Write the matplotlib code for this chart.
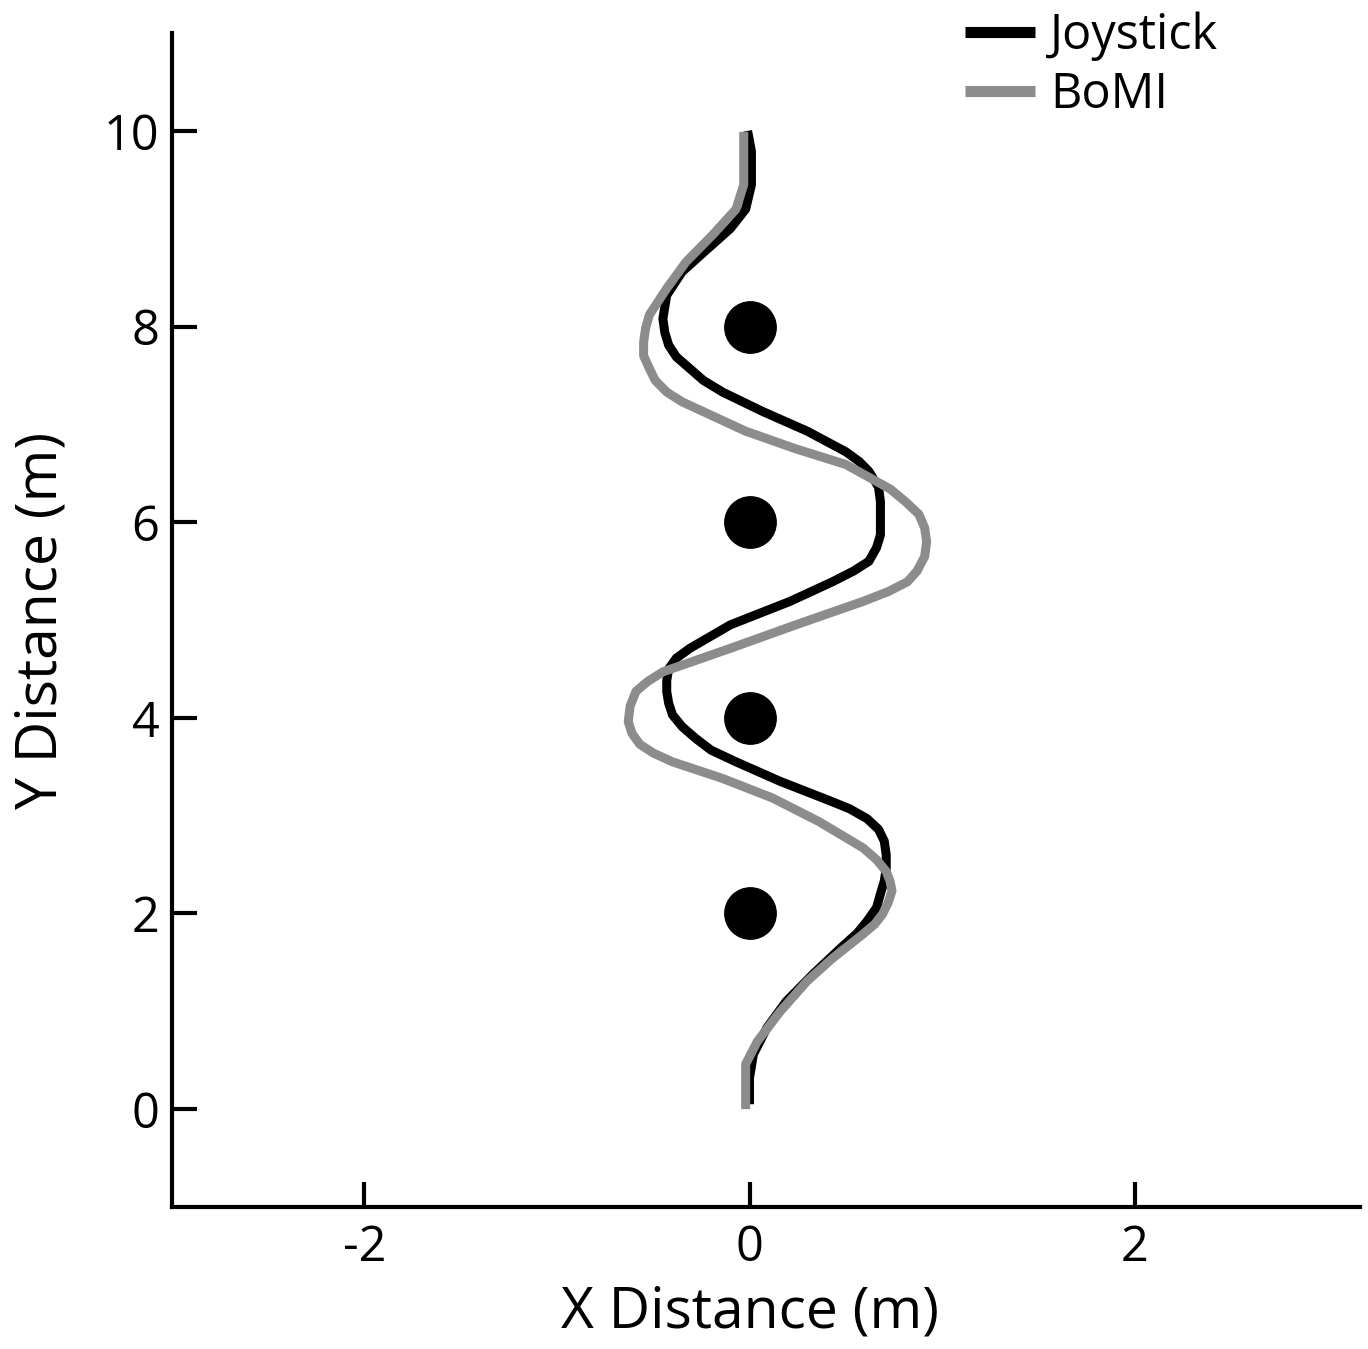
import matplotlib.pyplot as plt

plt.rcParams.update({'font.family': ['Open Sans', 'DejaVu Sans'],
                     'axes.unicode_minus': False})

# path points (metres)
joy_x = [0.00, 0.00, 0.02, 0.09, 0.19, 0.33, 0.47, 0.56, 0.61, 0.66, 0.68, 0.70,
         0.71, 0.71, 0.70, 0.67, 0.61, 0.52, 0.42, 0.16, -0.07, -0.20, -0.28,
         -0.35, -0.40, -0.42, -0.43, -0.43, -0.42, -0.38, -0.31, -0.10, 0.21,
         0.43, 0.54, 0.62, 0.66, 0.68, 0.68, 0.67, 0.62, 0.57, 0.50, 0.30, 0.07,
         -0.14, -0.24, -0.31, -0.38, -0.42, -0.44, -0.45, -0.44, -0.43, -0.35,
         -0.22, -0.10, -0.02, 0.01, 0.01, 0.01, -0.01]
joy_y = [0.05, 0.32, 0.56, 0.83, 1.10, 1.38, 1.64, 1.80, 1.92, 2.06, 2.20, 2.33,
         2.46, 2.60, 2.74, 2.86, 2.97, 3.07, 3.15, 3.35, 3.55, 3.67, 3.79,
         3.91, 4.03, 4.15, 4.27, 4.38, 4.50, 4.61, 4.71, 4.95, 5.19,
         5.39, 5.50, 5.60, 5.74, 5.87, 6.21, 6.36, 6.52, 6.62, 6.72, 6.93, 7.13,
         7.33, 7.45, 7.57, 7.69, 7.81, 7.94, 8.08, 8.20, 8.32, 8.56,
         8.79, 9.00, 9.20, 9.45, 9.62, 9.79, 10.00]
bomi_x = [-0.02, -0.02, -0.02, 0.04, 0.16, 0.30, 0.43, 0.59, 0.65, 0.69, 0.72,
          0.74, 0.73, 0.71, 0.66, 0.59, 0.36, 0.12, -0.14, -0.40, -0.50, -0.57,
          -0.61, -0.63, -0.62, -0.59, -0.53, -0.45, -0.10, 0.24, 0.59, 0.72,
          0.82, 0.87, 0.91, 0.92, 0.91, 0.88, 0.81, 0.73, 0.50, 0.24, -0.02,
          -0.24, -0.35, -0.43, -0.49, -0.52, -0.55, -0.55, -0.54, -0.52, -0.43,
          -0.33, -0.19, -0.07, -0.03, -0.03, -0.03]
bomi_y = [0.00, 0.26, 0.46, 0.69, 1.00, 1.31, 1.54, 1.79, 1.89, 1.99, 2.11,
          2.23, 2.33, 2.43, 2.55, 2.67, 2.94, 3.18, 3.38, 3.55, 3.64, 3.73,
          3.84, 3.96, 4.12, 4.27, 4.37, 4.47, 4.71, 4.95, 5.19, 5.29,
          5.39, 5.50, 5.65, 5.80, 5.94, 6.08, 6.21, 6.34, 6.59, 6.75, 6.93,
          7.13, 7.23, 7.33, 7.45, 7.57, 7.70, 7.84, 7.98, 8.12, 8.39,
          8.66, 8.94, 9.20, 9.45, 9.70, 9.99]
target_x = [0, 0, 0, 0]
target_y = [2, 4, 6, 8]

fig = plt.figure(figsize=(13.68, 13.49), dpi=100)
ax = fig.add_axes([0.1257, 0.1053, 0.8683, 0.8702])

ax.plot(joy_x, joy_y, color='black', lw=6.5, label='Joystick',
        solid_capstyle='butt', solid_joinstyle='round', zorder=3)
ax.plot(bomi_x, bomi_y, color='#8c8c8c', lw=6.5, label='BoMI',
        solid_capstyle='butt', solid_joinstyle='round', zorder=4)
ax.plot(target_x, target_y, 'o', color='black', ms=37, zorder=5)

ax.set_xlim(-3, 3.17)
ax.set_ylim(-1, 11)
ax.set_xticks([-2, 0, 2])
ax.set_yticks([0, 2, 4, 6, 8, 10])
ax.tick_params(direction='in', length=18, width=3, labelsize=35, pad=9)
ax.tick_params(axis='x', pad=12)
for s in ('top', 'right'):
    ax.spines[s].set_visible(False)
for s in ('left', 'bottom'):
    ax.spines[s].set_linewidth(3)

ax.set_xlabel('X Distance (m)', fontsize=41, labelpad=8)
ax.xaxis.label.set_x(0.4865)   # label sits centred under x = 0 in the original
ax.set_ylabel('Y Distance (m)', fontsize=41, labelpad=24)

leg = ax.legend(loc='upper right', bbox_to_anchor=(0.897, 1.035), frameon=False,
                fontsize=35, handlelength=1.45, handletextpad=0.3,
                labelspacing=0.2, borderaxespad=0)
for ln in leg.get_lines():
    ln.set_linewidth(8)

fig.savefig('out.png', dpi=100)
